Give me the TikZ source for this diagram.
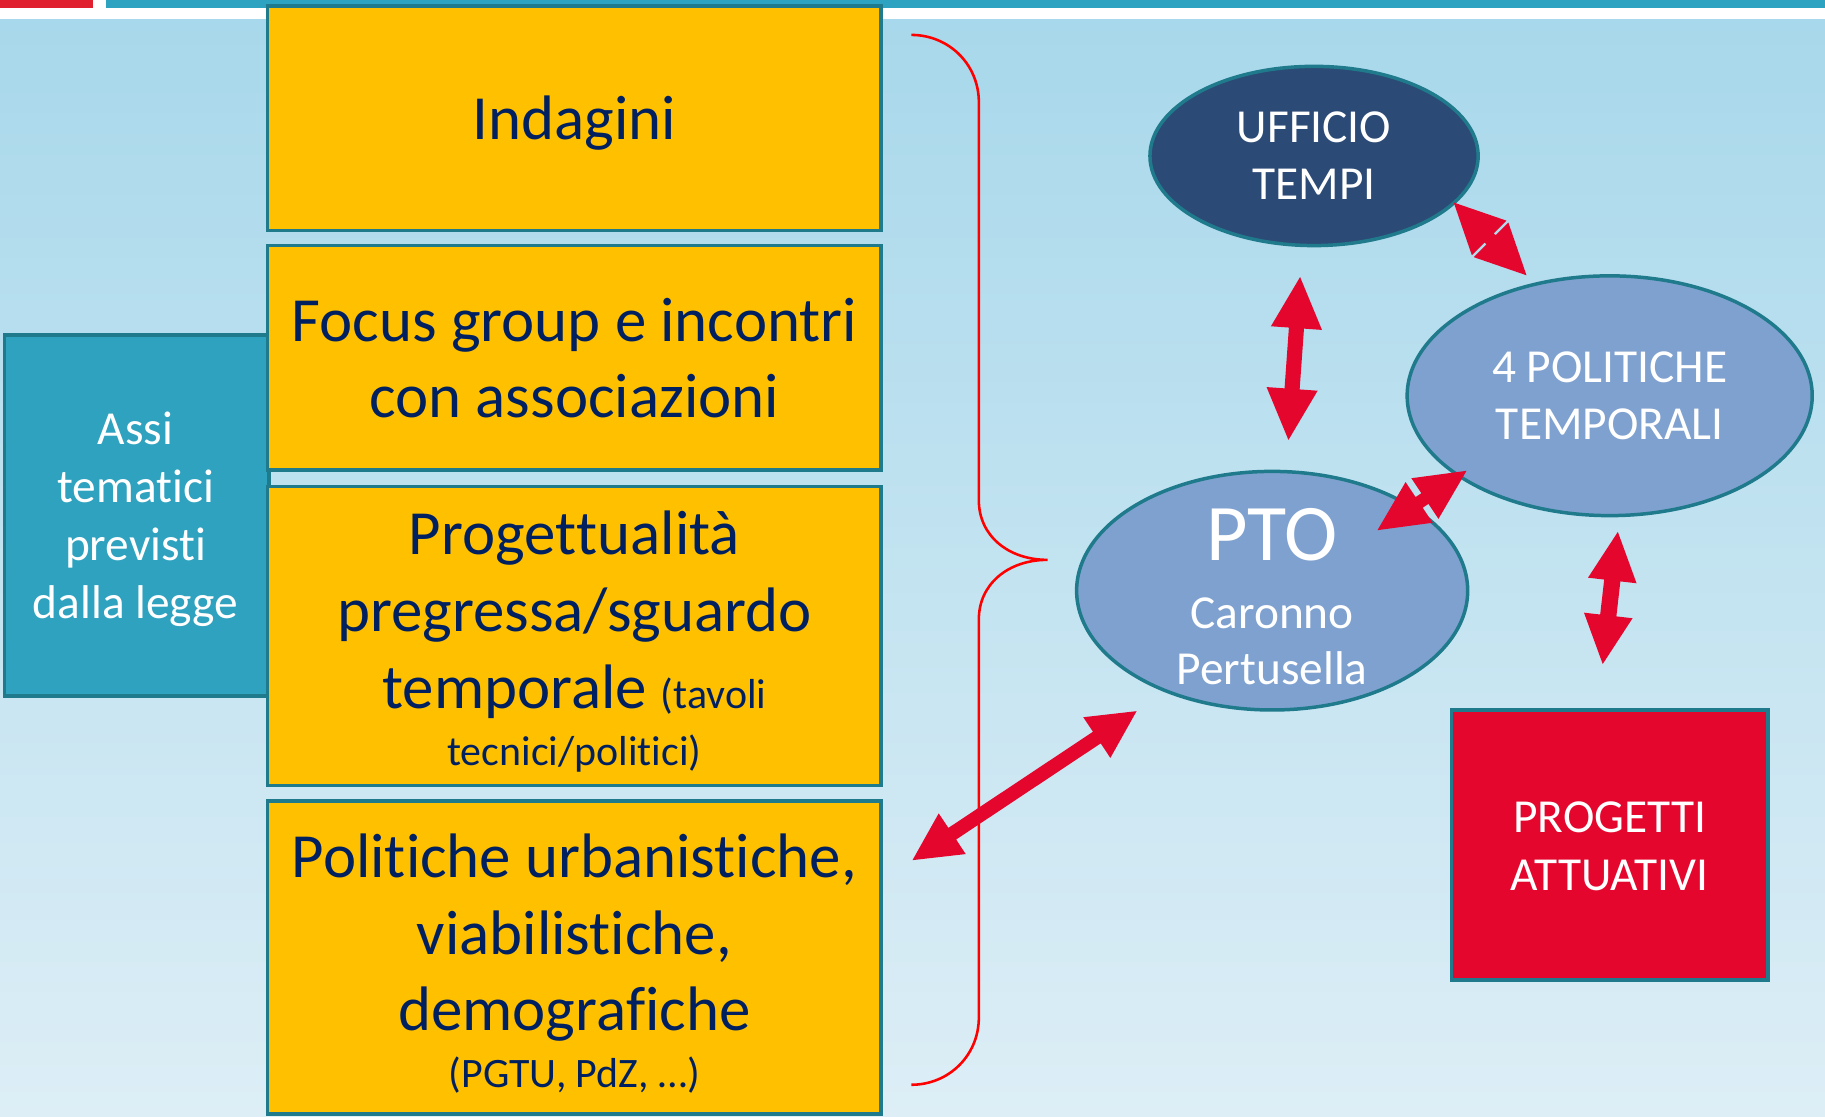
\documentclass[tikz,border=0pt]{standalone}
\usepackage{fontspec}
\setmainfont{Carlito}[Ligatures={NoCommon}]
\usetikzlibrary{calc,shapes.geometric}
\newcommand\brk{\kern0pt{}}
\definecolor{navy}{HTML}{002060}
\definecolor{bgtop}{HTML}{A8D8EB}
\definecolor{bgbot}{HTML}{DDEEF6}
\definecolor{barred}{HTML}{E0202F}
\definecolor{barteal}{HTML}{2EA3C1}
\definecolor{yel}{HTML}{FFC000}
\definecolor{bord}{HTML}{1F7A8C}
\definecolor{tealbox}{HTML}{2EA2BF}
\definecolor{lightell}{HTML}{7FA1CF}
\definecolor{darkell}{HTML}{2C4A76}
\definecolor{arrred}{HTML}{E5062E}
\definecolor{bracered}{HTML}{FF0000}
\newcommand\dblarrow[5]{%
\fill[arrred] let \p1=(#1), \p2=(#2), \n1={atan2(\y2-\y1,\x2-\x1)} in
 (\p1) -- ($(\p1)+(\n1:#3)+(\n1+90:#4)$) -- ($(\p1)+(\n1:#3)+(\n1+90:#5)$)
 -- ($(\p2)+(\n1:-#3)+(\n1+90:#5)$) -- ($(\p2)+(\n1:-#3)+(\n1+90:#4)$)
 -- (\p2) -- ($(\p2)+(\n1:-#3)+(\n1-90:#4)$) -- ($(\p2)+(\n1:-#3)+(\n1-90:#5)$)
 -- ($(\p1)+(\n1:#3)+(\n1-90:#5)$) -- ($(\p1)+(\n1:#3)+(\n1-90:#4)$) -- cycle;}
\begin{document}
\begin{tikzpicture}[x=1pt,y=-1pt,
  ybox/.style={rectangle, draw=bord, line width=3pt, fill=yel, minimum width=527pt, inner sep=0pt, outer sep=0pt},
  ytext/.style={font=\fontsize{54}{64}\selectfont, text=navy, inner sep=0pt, anchor=base},
  ysmall/.style={font=\fontsize{36}{44}\selectfont, text=navy, inner sep=0pt, anchor=base},
  wtext/.style={font=\fontsize{40.7}{49}\selectfont, text=white, inner sep=0pt, anchor=base},
  ell/.style={ellipse, draw=bord, line width=3pt, inner sep=0pt, outer sep=0pt}]
\useasboundingbox (0,0) rectangle (1568,959);
% background
\fill[white] (0,0) rectangle (1568,959);
\shade[top color=bgtop, bottom color=bgbot] (0,17) rectangle (1568,959);
\fill[barred] (0,0) rectangle (80,6.6);
\fill[barteal] (91,0) rectangle (1568,6.6);
% left teal box
\node[rectangle, draw=bord, line width=3pt, fill=tealbox, minimum width=227pt, minimum height=310pt, inner sep=0pt] (assi) at (117.5,443) {};
\node[wtext] (assi1) at (116.5,382) {Assi};
\node[wtext] (assi2) at (116.5,432) {temat\brk ici};
\node[wtext] (assi3) at (116.5,481.5) {previst\brk i};
\node[wtext] (assi4) at (116.5,531.5) {dalla legge};
% yellow boxes
\node[ybox, minimum height=193pt] (b1) at (493.5,101.5) {};
\node[ybox, minimum height=193pt] (b2) at (493.5,307.5) {};
\node[ybox, minimum height=257pt] (b3) at (493.5,546.5) {};
\node[ybox, minimum height=269pt] (b4) at (493.5,822.5) {};
\node[ytext] (t1) at (493.5,119.5) {Indagini};
\node[ytext] (t2a) at (493.5,293) {Focus group e incontri};
\node[ytext] (t2b) at (493.5,359) {con associazioni};
\node[ytext] (t3a) at (493.5,476.8) {Proget\brk tualità};
\node[ytext] (t3b) at (493.5,542.7) {pregressa/sguardo};
\node[ytext] (t3c) at (493.5,608.6) {temporale {\fontsize{36}{44}\selectfont(tavoli}};
\node[ysmall] (t3d) at (493.5,657.3) {tecnici/polit\brk ici)};
\node[ytext] (t4a) at (493.5,753.8) {Polit\brk iche urbanist\brk iche,};
\node[ytext] (t4b) at (493.5,819.7) {viabilist\brk iche,};
\node[ytext] (t4c) at (493.5,885.5) {demograf\brk iche};
\node[ysmall] (t4d) at (493.5,934.2) {(PGTU, PdZ, …)};
% brace
\draw[bracered, line width=2.2pt] (783,30) .. controls (815,30) and (841,55) .. (841,88)
  -- (841,430) .. controls (841,460) and (866,481) .. (900,481)
  .. controls (866,481) and (841,502) .. (841,532)
  -- (841,874) .. controls (841,907) and (815,932) .. (783,932);
% ellipses
\node[ell, fill=darkell, minimum width=282pt, minimum height=154pt] (uff) at (1129,134) {};
\node[wtext] (uff1) at (1129,122.6) {UFFICIO};
\node[wtext] (uff2) at (1129,171.3) {TEMPI};
\node[ell, fill=lightell, minimum width=348pt, minimum height=206pt] (pol) at (1383,340) {};
\node[wtext] (pol1) at (1383,329) {4 POLITICHE};
\node[wtext] (pol2) at (1383,378) {TEMPORALI};
\node[ell, fill=lightell, minimum width=336pt, minimum height=205pt] (pto) at (1093,507.5) {};
\node[font=\fontsize{69}{80}\selectfont, text=white, inner sep=0pt, anchor=base] (pto1) at (1093,481.7) {PTO};
\node[wtext] (pto2) at (1093,539.8) {Caronno};
\node[wtext] (pto3) at (1093,588.5) {Pertusella};
% progetti box
\node[rectangle, draw=bord, line width=3pt, fill=arrred, minimum width=272pt, minimum height=232pt, inner sep=0pt] (prog) at (1383,726) {};
\node[wtext] (prog1) at (1383,715.5) {PROGETTI};
\node[wtext] (prog2) at (1383,765) {ATTUATIVI};
% arrows
\coordinate (a1s) at (1117,238);
\coordinate (a1e) at (1107,378);
\coordinate (a2s) at (1249,174);
\coordinate (a2e) at (1311.5,236.5);
\coordinate (a3s) at (1183.5,455.5);
\coordinate (a3e) at (1260,404.5);
\coordinate (a4s) at (1390,457);
\coordinate (a4e) at (1377,570.5);
\coordinate (a5s) at (784,739);
\coordinate (a5e) at (976.5,611);
\dblarrow{a1s}{a1e}{44pt}{22pt}{6.5pt}
\dblarrow{a2s}{a2e}{43pt}{21pt}{5.5pt}
\dblarrow{a3s}{a3e}{43pt}{21pt}{5.5pt}
\dblarrow{a4s}{a4e}{42pt}{21pt}{7pt}
\dblarrow{a5s}{a5e}{41pt}{21pt}{6pt}
\end{tikzpicture}
\end{document}
